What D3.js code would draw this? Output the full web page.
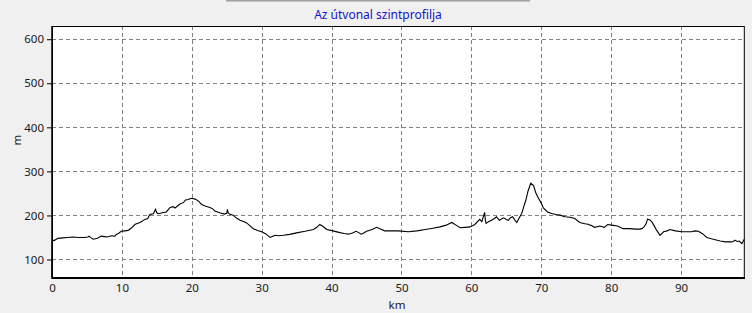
<!DOCTYPE html>
<html><head><meta charset="utf-8">
<script src="https://cdn.jsdelivr.net/npm/d3@7"></script>
<style>
html,body{margin:0;padding:0;background:#f0f0f0;}
svg{display:block;font-family:"Noto Sans","Open Sans",sans-serif;}
</style></head>
<body>
<svg id="c" width="752" height="313"></svg>
<script>
const title = "Az útvonal szintprofilja";
const xLabel = "km";
const yLabel = "m";
const xTicks = [0,10,20,30,40,50,60,70,80,90];
const yTicks = [100,200,300,400,500,600];
const km = [0,0.05,0.3,0.86,1.5,2.2,3.0,3.8,4.6,5.15,5.3,5.6,5.9,6.5,7.05,7.5,7.9,8.5,9.0,9.2,9.5,9.9,10.4,10.9,11.4,11.9,12.6,13.3,13.7,14.0,14.5,14.8,15.0,15.2,15.8,16.35,16.9,17.3,17.6,18.3,18.8,19.1,19.5,19.9,20.5,21.0,21.4,22.0,22.6,23.0,23.3,24.0,24.7,25.0,25.1,25.2,25.4,25.9,26.4,26.9,27.4,27.85,28.3,28.8,29.4,30.0,30.6,31.2,31.6,31.9,32.5,33.1,34.0,35.0,36.2,37.4,37.9,38.3,38.7,39.3,40.2,41.2,41.8,42.4,43.0,43.5,43.9,44.2,44.6,45.0,45.8,46.45,47.0,47.6,48.5,49.5,51.0,52.2,53.4,54.5,55.5,56.4,57.2,57.8,58.4,59.1,59.8,60.5,61.2,61.5,61.9,62.0,62.1,62.5,62.9,63.3,63.6,64.0,64.6,65.0,65.3,65.6,65.9,66.2,66.5,66.9,67.2,67.5,67.8,68.1,68.5,68.9,69.2,69.6,70.0,70.3,70.9,71.5,72.1,72.7,73.0,73.4,74.1,74.8,75.5,76.25,76.7,77.0,77.2,77.6,78.4,79.0,79.5,80.1,80.9,81.7,82.6,83.6,84.1,84.4,84.7,85.0,85.2,85.5,85.8,86.1,86.5,87.0,87.5,88.0,88.4,89.2,90.1,90.8,91.5,92.0,92.5,93.1,93.7,94.6,95.6,96.4,97.2,97.5,97.7,98.0,98.3,98.7,99.05];
const elev = [60,144,143,148,149,150,151,150,150,151,153,149,146,148,153,152,151,154,153,157,159,164,165,166,172,180,184,191,193,202,204,214,206,204,206,208,218,220,217,226,229,235,236,239,237,232,225,221,218,215,210,206,203,205,214,206,203,200.6,194,189,186,183,177,170,166,163,158,150,153,155,154,155,157,160.5,164,168,173,179.5,176,168,165,161,159,157.5,160,164,161,157.5,160,164,168,173,169,165,165,165,163,165,168,171,174,178,184,178,172,173,174,179.5,191,186,207,190,182,186,189,193,197,189,194.5,191,189,195,197,190,184,196,204.5,220,235,255,273,268,252,239,228,217,208,204.5,202,200.7,199,197,196,193,184,181,180,178,177,173,176,173,179.5,178,176,170,170,169,169,170,174,181,191.6,190,186,178,166.6,155,163,165,168,165,163,163,163,165,164,158,150,146,142,140,140,141,144,141,142,136,146,144,145];

const svg = d3.select("#c");
const x = d3.scaleLinear().domain([0,99.05]).range([52,744.3]);
const y = d3.scaleLinear().domain([58,630]).range([278,26]);

// top separator
svg.append("line").attr("x1",226).attr("x2",530).attr("y1",0.5).attr("y2",0.5)
  .attr("stroke","#a0a0a0").attr("stroke-width",2);

svg.append("text").attr("x",378).attr("y",19).attr("text-anchor","middle")
  .attr("fill","#1414c8").attr("font-size",12).text(title);

// plot background
svg.append("rect").attr("x",52).attr("y",26).attr("width",744.3-52).attr("height",278-26)
  .attr("fill","#fff");

const g = svg.append("g");
// grid
g.selectAll(".vg").data(xTicks).join("line")
  .attr("x1",d=>Math.round(x(d))+0.5).attr("x2",d=>Math.round(x(d))+0.5)
  .attr("y1",26).attr("y2",278)
  .attr("stroke","#808080").attr("stroke-dasharray","4,3");
g.selectAll(".hg").data(yTicks).join("line")
  .attr("y1",d=>Math.round(y(d))+0.5).attr("y2",d=>Math.round(y(d))+0.5)
  .attr("x1",52).attr("x2",744.3)
  .attr("stroke","#808080").attr("stroke-dasharray","4,3");

// line
const line = d3.line().x((d,i)=>x(km[i])).y(d=>y(d));
svg.append("path").datum(elev).attr("d",line).attr("fill","none")
  .attr("stroke","#000").attr("stroke-width",1.1);

// frame
svg.append("rect").attr("x",52.5).attr("y",26.5).attr("width",744.3-52.5).attr("height",278-26.5-0.5)
  .attr("fill","none").attr("stroke","#000").attr("stroke-width",1);
svg.append("line").attr("x1",52).attr("x2",745).attr("y1",278).attr("y2",278).attr("stroke","#000").attr("stroke-width",2);
svg.append("line").attr("x1",52).attr("x2",52).attr("y1",26).attr("y2",279).attr("stroke","#000").attr("stroke-width",1.5);

// axes
const ya = d3.axisLeft(y).tickValues(yTicks).tickSize(5).tickPadding(3);
const yg = svg.append("g").attr("transform","translate(52,0)").call(ya);
yg.select(".domain").remove();
yg.selectAll("text").attr("font-size",11.5).attr("fill","#1a1a1a").attr("font-family","'Noto Sans',sans-serif");

const xa = d3.axisBottom(x).tickValues(xTicks).tickSize(0).tickPadding(6);
const xg = svg.append("g").attr("transform","translate(0,278)").call(xa);
xg.select(".domain").remove();
xg.selectAll("text").attr("font-size",11.5).attr("fill","#1a1a1a").attr("font-family","'Noto Sans',sans-serif");

svg.append("text").attr("x",397).attr("y",309).attr("text-anchor","middle")
  .attr("font-size",11.5).attr("fill","#1a1a1a").text(xLabel);
svg.append("text").attr("transform","translate(21,140) rotate(-90)").attr("text-anchor","middle")
  .attr("font-size",11.5).attr("fill","#1a1a1a").text(yLabel);
</script>
</body></html>
